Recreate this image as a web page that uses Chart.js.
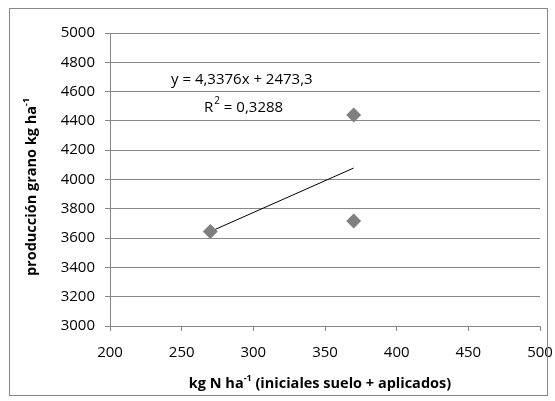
<!DOCTYPE html>
<html>
<head>
<meta charset="utf-8">
<script src="https://cdn.jsdelivr.net/npm/chart.js@4/dist/chart.umd.min.js"></script>
<style>
  html, body { margin: 0; padding: 0; background: #fff; }
  #wrap { width: 555px; height: 401px; }
</style>
</head>
<body>
<div id="wrap"><canvas id="grafico" width="555" height="401"></canvas></div>
<script>
// datos
const nitrogeno = [270, 370, 370];
const produccion = [3645, 4440, 3716];

// linea de tendencia (Excel): y = 4,3376x + 2473,3
const pendiente = 4.3376;
const ordenada = 2473.3;
const tendenciaX = [270, 370];

const ejeX = { min: 200, max: 500, paso: 50 };
const ejeY = { min: 3000, max: 5000, paso: 200 };

const textoEcuacion = 'y = 4,3376x + 2473,3';
const textoR2 = ' = 0,3288';

const gris = '#878787';
const fuente = '"Open Sans", sans-serif';

const tendencia = tendenciaX.map(x => ({ x: x, y: pendiente * x + ordenada }));
const puntos = nitrogeno.map((x, i) => ({ x: x, y: produccion[i] }));

// dibuja un texto con superindice (base + sup + resto)
function textoConSup(ctx, partes, x, y, size) {
  ctx.font = 'bold ' + size + 'px ' + fuente;
  const w0 = ctx.measureText(partes[0]).width;
  ctx.font = 'bold ' + Math.round(size * 0.65) + 'px ' + fuente;
  const w1 = ctx.measureText(partes[1]).width;
  ctx.font = 'bold ' + size + 'px ' + fuente;
  const w2 = ctx.measureText(partes[2]).width;
  let cx = x - (w0 + w1 + w2) / 2;
  ctx.textAlign = 'left';
  ctx.textBaseline = 'alphabetic';
  ctx.fillText(partes[0], cx, y);
  cx += w0;
  ctx.font = 'bold ' + Math.round(size * 0.65) + 'px ' + fuente;
  ctx.fillText(partes[1], cx, y - size * 0.45);
  cx += w1;
  ctx.font = 'bold ' + size + 'px ' + fuente;
  ctx.fillText(partes[2], cx, y);
}

const extras = {
  id: 'extras',
  afterDraw(chart) {
    const ctx = chart.ctx;
    ctx.save();
    // marco exterior
    ctx.strokeStyle = gris;
    ctx.lineWidth = 1;
    ctx.strokeRect(9.5, 8.5, 538, 387);

    ctx.fillStyle = '#000';
    // titulo eje X
    textoConSup(ctx, ['kg N ha', '-1', ' (iniciales suelo + aplicados)'], 320, 388, 14.5);

    // titulo eje Y
    ctx.save();
    ctx.translate(36, 187);
    ctx.rotate(-Math.PI / 2);
    textoConSup(ctx, ['producción grano kg ha', '-1', ''], 0, 0, 14.5);
    ctx.restore();

    // ecuacion y R2
    ctx.font = '15px ' + fuente;
    ctx.textAlign = 'left';
    ctx.textBaseline = 'middle';
    ctx.fillText(textoEcuacion, 171, 80);
    ctx.fillText('R', 204, 108);
    const wR = ctx.measureText('R').width;
    ctx.font = '10px ' + fuente;
    ctx.fillText('2', 204 + wR + 1, 101);
    const w2 = ctx.measureText('2').width;
    ctx.font = '15px ' + fuente;
    ctx.fillText(textoR2, 204 + wR + 1 + w2, 108);
    ctx.restore();
  }
};

new Chart(document.getElementById('grafico'), {
  type: 'scatter',
  data: {
    datasets: [
      {
        label: 'producción',
        data: puntos,
        pointStyle: 'rectRot',
        pointRadius: 7.5,
        backgroundColor: '#7f7f7f',
        borderColor: '#7f7f7f',
        borderWidth: 0
      },
      {
        label: 'tendencia',
        type: 'line',
        data: tendencia,
        borderColor: '#000',
        borderWidth: 1,
        pointRadius: 0,
        fill: false
      }
    ]
  },
  options: {
    responsive: false,
    animation: false,
    layout: { padding: { left: 0, top: 33, right: 15, bottom: 0 } },
    plugins: {
      legend: { display: false },
      tooltip: { enabled: false }
    },
    scales: {
      x: {
        type: 'linear',
        min: ejeX.min,
        max: ejeX.max,
        afterFit(scale) {
          scale.height = 75;
          scale.paddingLeft = 0;
          scale.paddingRight = 0;
        },
        ticks: {
          stepSize: ejeX.paso, color: '#000', padding: 13,
          font: { family: fuente, size: 15 },
          callback: v => String(v)
        },
        grid: { drawOnChartArea: false, tickLength: 5, tickColor: gris },
        border: { color: gris }
      },
      y: {
        min: ejeY.min,
        max: ejeY.max,
        afterFit(scale) {
          scale.width = 110;
          scale.paddingTop = 0;
          scale.paddingBottom = 0;
        },
        ticks: {
          stepSize: ejeY.paso, color: '#000', padding: 10,
          font: { family: fuente, size: 15 },
          callback: v => String(v)
        },
        grid: { color: gris, tickLength: 5, tickColor: gris },
        border: { color: gris }
      }
    }
  },
  plugins: [extras]
});
</script>
</body>
</html>
